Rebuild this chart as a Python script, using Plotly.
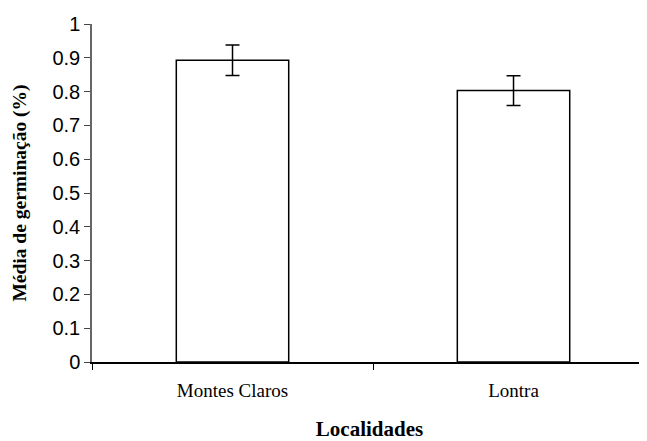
import plotly.graph_objects as go

categories = ["Montes Claros", "Lontra"]
values = [0.893, 0.803]
errors = [0.045, 0.044]
y_ticks = [0, 0.1, 0.2, 0.3, 0.4, 0.5, 0.6, 0.7, 0.8, 0.9, 1]
y_tick_labels = ["0", "0.1", "0.2", "0.3", "0.4", "0.5", "0.6", "0.7", "0.8", "0.9", "1"]

fig = go.Figure()
fig.add_trace(go.Bar(
    x=categories, y=values,
    width=0.4,
    marker=dict(color="white", line=dict(color="black", width=1.5)),
    error_y=dict(type="data", array=errors, visible=True, color="black", thickness=1.5, width=7),
))

fig.update_layout(
    width=639, height=433,
    margin=dict(l=84, r=0, t=16, b=79),
    plot_bgcolor="white", paper_bgcolor="white",
    showlegend=False,
    xaxis=dict(
        type="category", range=[-0.5, 1.475], automargin=False,
        tickson="boundaries", ticks="outside", ticklen=6, tickcolor="black",
        ticklabelstandoff=10,
        showline=True, linecolor="black", linewidth=1.5,
        tickfont=dict(family="Liberation Serif", size=19, color="black"),
        showgrid=False,
        title=dict(text="<b>Localidades</b>", font=dict(family="Liberation Serif", size=21, color="black"), standoff=28),
    ),
    yaxis=dict(
        range=[0, 1], tickvals=y_ticks, ticktext=y_tick_labels, automargin=False,
        ticks="outside", ticklen=6, tickcolor="#444444",
        showline=True, linecolor="#666666", linewidth=1.5,
        tickfont=dict(family="Liberation Sans", size=20, color="black"),
        showgrid=False, zeroline=False,
        title=dict(text="<b>Média de germinação (%)</b>", font=dict(family="Liberation Serif", size=19.5, color="black"), standoff=21),
    ),
)

fig.write_html("out.html")
